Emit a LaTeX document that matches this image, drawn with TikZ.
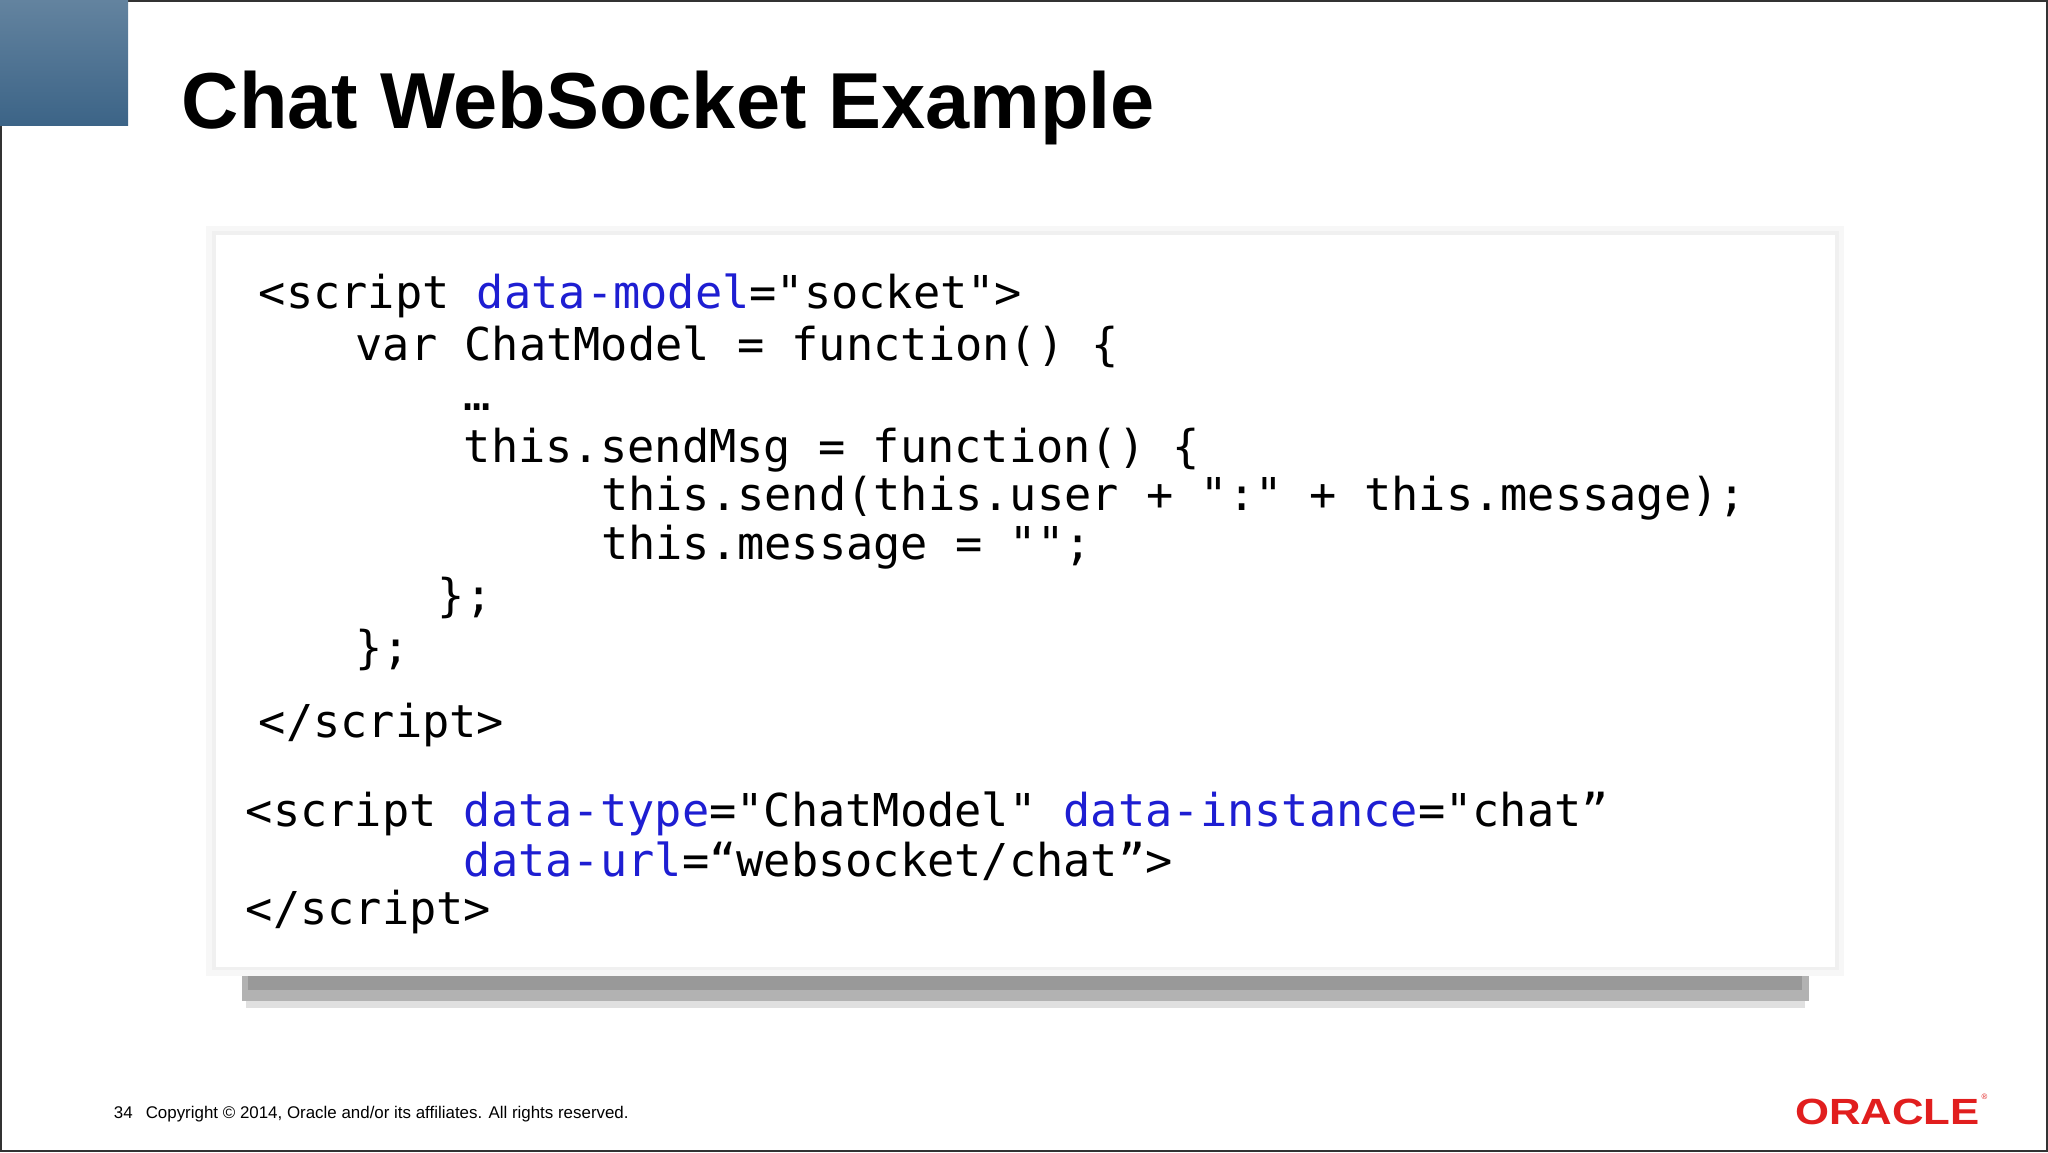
\documentclass[tikz,border=0pt]{standalone}
\usepackage{fontspec}
\setmainfont{Liberation Sans}
\newfontfamily\code{DejaVu Sans Mono}
\definecolor{kw}{RGB}{30,30,210}
\definecolor{orared}{RGB}{225,30,30}
\definecolor{tlblue}{RGB}{60,100,135}
\begin{document}
\begin{tikzpicture}[x=1bp,y=-1bp,
  cl/.style={anchor=base west,inner sep=0,font=\code\fontsize{34.8}{34.8}\selectfont}]
\useasboundingbox (0,0) rectangle (1568,882);
\fill[white] (0,0) rectangle (1568,882);
\draw[black!80,line width=1.2] (0.6,0.6) rectangle (1567.4,881.4);
\shade[top color=tlblue!80,bottom color=tlblue] (0,0) rectangle (98,96);
\node[anchor=base west,inner sep=0,font=\bfseries\fontsize{61}{61}\selectfont] (title) at (139,98) {Chat WebSocket Example};
% card shadow
\fill[black!12] (188,734) rectangle (1382,772);
\fill[black!30] (185,738) rectangle (1385,766);
\fill[black!40] (190,742) rectangle (1380,758);
\fill[black!3] (158,173) rectangle (1412,747);
\fill[black!6] (162,177) rectangle (1408,743);
\fill[white] (165,180) rectangle (1405,740);
\node[cl] (l1) at (198,236) {<script \textcolor{kw}{data-model}="socket">};
\node[cl] (l2) at (272,276) {var ChatModel = function() \{};
\node[cl] (l3) at (355,314) {…};
\node[cl] (l4) at (355,354) {this.sendMsg = function() \{};
\node[cl] (l5) at (460,391) {this.send(this.user + ":" + this.message);};
\node[cl] (l6) at (460,428) {this.message = "";};
\node[cl] (l7) at (335,468) {\};};
\node[cl] (l8) at (272,508) {\};};
\node[cl] (l9) at (198,565) {</script>};
\node[cl] (l10) at (188,633) {<script \textcolor{kw}{data-type}="ChatModel" \textcolor{kw}{data-instance}="chat”};
\node[cl] (l11) at (355,671) {\textcolor{kw}{data-url}=“websocket/chat”>};
\node[cl] (l12) at (188,708) {</script>};
\node[anchor=base west,inner sep=0,font=\fontsize{13}{13}\selectfont] (foot) at (87,856) {34\hspace{10bp}Copyright © 2014, Oracle and/or its affiliates. All rights reserved.};
\node[anchor=base east,inner sep=0,text=orared,xscale=1.2,font=\bfseries\fontsize{28}{28}\selectfont] (logo) at (1516,861) {ORACLE};
\node[anchor=south west,inner sep=0,font=\fontsize{6}{6}\selectfont,text=orared] (reg) at (1517,842) {®};
\end{tikzpicture}
\end{document}
